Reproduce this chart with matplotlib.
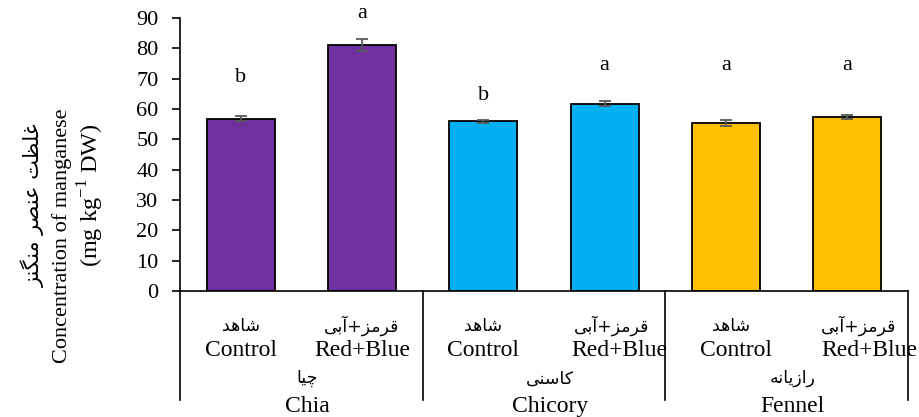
import numpy as np
import matplotlib
matplotlib.use('Agg')
import matplotlib.pyplot as plt
import matplotlib.transforms as mtransforms

# data
gruppe_en = ['Chia', 'Chicory', 'Fennel']
gruppe_fa = ['چیا', 'کاسنی', 'رازیانه']
tretman_en = ['Control', 'Red+Blue']
tretman_fa = ['شاهد', 'قرمز+آبی']
vrednosti = [56.8, 81.2, 56.0, 61.8, 55.4, 57.4]
greske = [0.8, 2.0, 0.5, 0.8, 1.0, 0.6]
slova = ['b', 'a', 'b', 'a', 'a', 'a']
ylabel_fa = 'غلظت عنصر منگنز'

# stil
boje = ['#7030A0', '#7030A0', '#00B0F0', '#00B0F0', '#FFC000', '#FFC000']
slova_y = [70.5, 91.5, 64.3, 74.5, 74.3, 74.5]

# oblici arapskih slova (izolovano, kraj, pocetak, sredina); None = ne spaja se levo
oblici = {
    'ا': ('\uFE8D', '\uFE8E', None, None),
    'آ': ('\uFE81', '\uFE82', None, None),
    'د': ('\uFEA9', '\uFEAA', None, None),
    'ر': ('\uFEAD', '\uFEAE', None, None),
    'ز': ('\uFEAF', '\uFEB0', None, None),
    'ب': ('\uFE8F', '\uFE90', '\uFE91', '\uFE92'),
    'ت': ('\uFE95', '\uFE96', '\uFE97', '\uFE98'),
    'س': ('\uFEB1', '\uFEB2', '\uFEB3', '\uFEB4'),
    'ش': ('\uFEB5', '\uFEB6', '\uFEB7', '\uFEB8'),
    'ص': ('\uFEB9', '\uFEBA', '\uFEBB', '\uFEBC'),
    'ظ': ('\uFEC5', '\uFEC6', '\uFEC7', '\uFEC8'),
    'ع': ('\uFEC9', '\uFECA', '\uFECB', '\uFECC'),
    'غ': ('\uFECD', '\uFECE', '\uFECF', '\uFED0'),
    'ق': ('\uFED5', '\uFED6', '\uFED7', '\uFED8'),
    'ل': ('\uFEDD', '\uFEDE', '\uFEDF', '\uFEE0'),
    'م': ('\uFEE1', '\uFEE2', '\uFEE3', '\uFEE4'),
    'ن': ('\uFEE5', '\uFEE6', '\uFEE7', '\uFEE8'),
    'ه': ('\uFEE9', '\uFEEA', '\uFEEB', '\uFEEC'),
    'ی': ('\uFEEF', '\uFEF0', '\uFEF3', '\uFEF4'),
    'چ': ('\uFB7A', '\uFB7B', '\uFB7C', '\uFB7D'),
    'ک': ('\uFB8E', '\uFB8F', '\uFB90', '\uFB91'),
    'گ': ('\uFB92', '\uFB93', '\uFB94', '\uFB95'),
}


def oblikuj(rec):
    izlaz = []
    for i, c in enumerate(rec):
        if c not in oblici:
            izlaz.append(c)
            continue
        pre = rec[i - 1] if i > 0 else ''
        posle = rec[i + 1] if i + 1 < len(rec) else ''
        levo = pre in oblici and oblici[pre][2] is not None
        desno = posle in oblici and oblici[c][2] is not None
        f = oblici[c]
        if levo and desno:
            izlaz.append(f[3])
        elif levo:
            izlaz.append(f[1])
        elif desno:
            izlaz.append(f[2])
        else:
            izlaz.append(f[0])
    return ''.join(izlaz)


def fa(tekst):
    # redosled reci i slova s desna na levo
    reci = [oblikuj(r)[::-1] for r in tekst.split(' ')]
    return ' '.join(reci[::-1])


def fa_plus(tekst):
    delovi = tekst.split('+')
    return '+'.join(fa(d) for d in delovi[::-1])


plt.rcParams['font.family'] = ['Liberation Serif', 'DejaVu Sans']
plt.rcParams['mathtext.fontset'] = 'custom'
plt.rcParams['mathtext.rm'] = 'Liberation Serif'
fa_font = ['DejaVu Sans']

fig = plt.figure(figsize=(9.19, 4.17), dpi=100)
ax = fig.add_axes([0.1959, 0.3022, 0.7921, 0.6546])

x = np.arange(len(vrednosti))
ax.bar(x, vrednosti, width=0.56, color=boje, edgecolor='black', linewidth=1.3, zorder=2)
ax.errorbar(x, vrednosti, yerr=greske, fmt='none', ecolor='#595959',
            elinewidth=1.3, capsize=4.5, capthick=1.3, zorder=3)

for xi, s, yy in zip(x, slova, slova_y):
    ax.text(xi, yy, s, ha='center', va='center', fontsize=16, clip_on=False)

ax.set_xlim(-0.5, len(vrednosti) - 0.5)
ax.set_ylim(0, 90)
ax.set_yticks(np.arange(0, 91, 10))
ax.tick_params(axis='y', labelsize=16, length=5.5, width=1.2, direction='out', pad=10)
ax.set_xticks([])
for s in ['top', 'right']:
    ax.spines[s].set_visible(False)
ax.spines['left'].set_linewidth(1.2)
ax.spines['bottom'].set_linewidth(1.2)

trans = mtransforms.blended_transform_factory(ax.transData, ax.transAxes)

# vertikalne linije izmedju grupa
for g in range(len(gruppe_en) + 1):
    ax.plot([g * 2 - 0.5, g * 2 - 0.5], [0, -0.40], color='black', lw=1.2,
            transform=trans, clip_on=False)

pomak = [0, 0, 0, 0.12, 0.08, 0.18]
for i in range(len(vrednosti)):
    t = i % 2
    lab_fa = fa(tretman_fa[t]) if t == 0 else fa_plus(tretman_fa[t])
    ax.text(x[i] + pomak[i] * 0.5, -0.128, lab_fa, transform=trans, ha='center',
            va='center', fontsize=12.5, family=fa_font)
    ax.text(x[i] + pomak[i], -0.218, tretman_en[t], transform=trans, ha='center',
            va='center', fontsize=17)

for g in range(len(gruppe_en)):
    cx = g * 2 + 0.5 + 0.05
    ax.text(cx, -0.32, fa(gruppe_fa[g]), transform=trans, ha='center',
            va='center', fontsize=12.5, family=fa_font)
    ax.text(cx, -0.422, gruppe_en[g], transform=trans, ha='center',
            va='center', fontsize=17)

# naslov y ose u tri reda
fig.text(33 / 919, 1 - 123 / 417, fa(ylabel_fa), rotation=90, ha='center', va='top',
         fontsize=15, family=fa_font)
fig.text(62 / 919, 1 - 236 / 417, 'Concentration of manganese', rotation=90,
         ha='center', va='center', fontsize=16)
fig.text(91 / 919, 1 - 123 / 417, '(mg kg$^{\\mathrm{-1}}$ DW)', rotation=90,
         ha='center', va='top', fontsize=17.5)

plt.savefig('out.png', dpi=100)
